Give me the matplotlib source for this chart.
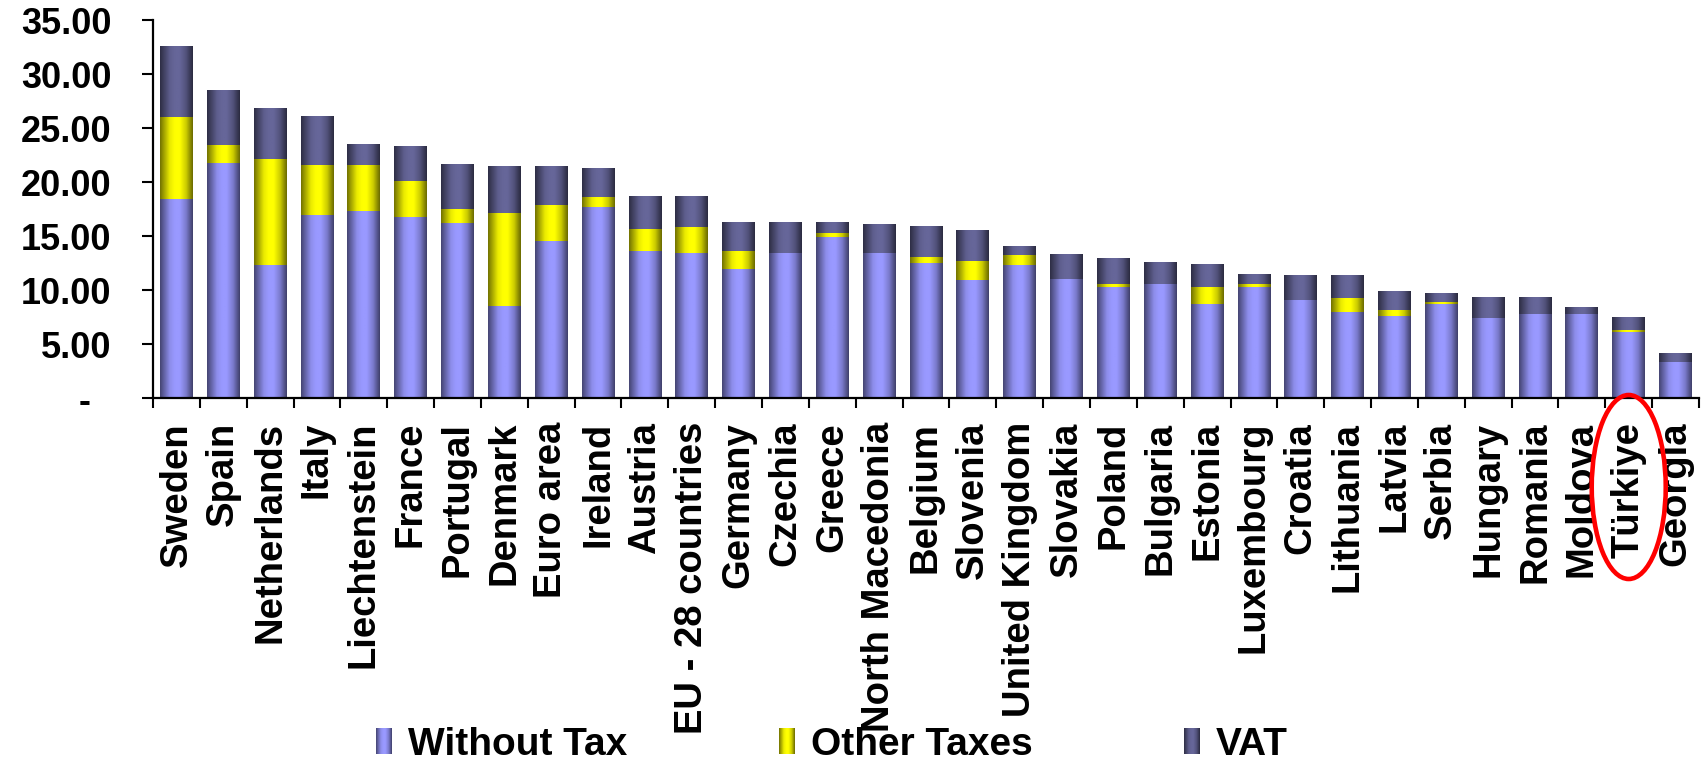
import numpy as np
import matplotlib
matplotlib.use('Agg')
import matplotlib.pyplot as plt
from matplotlib.patches import Ellipse
import matplotlib.transforms as mtransforms

plt.rcParams['font.family'] = ['Liberation Sans', 'DejaVu Sans']
plt.rcParams['font.weight'] = 'bold'

countries = ["Sweden", "Spain", "Netherlands", "Italy", "Liechtenstein", "France",
             "Portugal", "Denmark", "Euro area", "Ireland", "Austria",
             "EU - 28 countries", "Germany", "Czechia", "Greece", "North Macedonia",
             "Belgium", "Slovenia", "United Kingdom", "Slovakia", "Poland",
             "Bulgaria", "Estonia", "Luxembourg", "Croatia", "Lithuania", "Latvia",
             "Serbia", "Hungary", "Romania", "Moldova", "Türkiye", "Georgia"]

without_tax = [18.44, 21.77, 12.34, 16.96, 17.33, 16.78, 16.22, 8.57, 14.56, 17.70,
               13.63, 13.45, 11.97, 13.45, 14.93, 13.45, 12.52, 10.95, 12.34, 11.04,
               10.30, 10.58, 8.76, 10.33, 9.13, 8.02, 7.65, 8.76, 7.46, 7.83, 7.83,
               6.17, 3.39]
other_taxes = [7.59, 1.67, 9.80, 4.63, 4.26, 3.33, 1.30, 8.58, 3.33, 0.93,
               2.04, 2.40, 1.66, 0.00, 0.37, 0.00, 0.56, 1.76, 0.92, 0.00,
               0.28, 0.00, 1.57, 0.28, 0.00, 1.29, 0.55, 0.18, 0.00, 0.00, 0.00,
               0.18, 0.00]
vat = [6.57, 5.09, 4.72, 4.53, 1.94, 3.24, 4.16, 4.35, 3.61, 2.68,
       3.05, 2.87, 2.68, 2.86, 1.01, 2.68, 2.86, 2.86, 0.83, 2.31,
       2.40, 2.03, 2.13, 0.92, 2.31, 2.13, 1.76, 0.84, 1.95, 1.58, 0.65,
       1.21, 0.84]

series_names = ["Without Tax", "Other Taxes", "VAT"]
series_values = [without_tax, other_taxes, vat]
series_colors = [(153, 153, 255), (255, 255, 0), (102, 102, 153)]
y_ticks = [0, 5, 10, 15, 20, 25, 30, 35]
y_tick_labels = ["-  ", "5.00", "10.00", "15.00", "20.00", "25.00", "30.00", "35.00"]
highlight = "Türkiye"

W, H = 1708, 763
fig = plt.figure(figsize=(W / 100, H / 100), dpi=100)
ax = fig.add_axes([153 / W, 1 - 398.3 / H, (1699 - 153) / W, (398.3 - 20) / H])

def gradient(rgb, n=64):
    t = np.linspace(0, 1, n)
    f = np.interp(t, [0, 0.08, 0.3, 0.45, 0.6, 0.8, 0.93, 1.0],
                     [0.45, 0.58, 0.92, 1.0, 1.0, 0.8, 0.55, 0.42])
    c = np.array(rgb, dtype=float) / 255.0
    return np.clip(f[None, :, None] * c[None, None, :], 0, 1)

x = np.arange(len(countries))
bottom = np.zeros(len(countries))
bw = 0.70
for name, vals, col in zip(series_names, series_values, series_colors):
    vals = np.array(vals)
    bars = ax.bar(x, vals, bw, bottom=bottom, color=np.array(col) / 255.0,
                  edgecolor='none', label=name, zorder=1)
    g = gradient(col)
    for rect, v in zip(bars.patches, vals):
        if v <= 0:
            continue
        x0, y0 = rect.get_x(), rect.get_y()
        im = ax.imshow(g, extent=(x0, x0 + rect.get_width(), y0, y0 + rect.get_height()),
                       aspect='auto', interpolation='bilinear', zorder=2)
        im.set_clip_path(rect)
    bottom = bottom + vals

ax.set_xlim(-0.5, len(countries) - 0.5)
ax.set_ylim(0, 35)

for s in ['top', 'right']:
    ax.spines[s].set_visible(False)
for s in ['left', 'bottom']:
    ax.spines[s].set_linewidth(1.6)
    ax.spines[s].set_zorder(5)

ax.set_yticks(y_ticks)
ax.set_yticklabels(y_tick_labels, fontsize=26, fontweight='bold')
ax.tick_params(axis='y', direction='out', length=8, width=1.5, pad=22)

ax.set_xticks(x)
ax.set_xticklabels(countries, rotation=90, fontsize=27.5, fontweight='bold',
                   ha='center', va='top')
ax.set_xticks(np.arange(-0.5, len(countries), 1), minor=True)
ax.tick_params(axis='x', which='major', length=0, pad=17)
ax.tick_params(axis='x', which='minor', direction='out', length=7.5, width=1.5)

# highlight ellipse around Türkiye label
trans = mtransforms.blended_transform_factory(ax.transData, fig.transFigure)
ti = countries.index(highlight)
ell = Ellipse((ti, 1 - 487 / H), 1.58, 184 / H, transform=trans, fill=False,
              edgecolor='#FF0000', linewidth=3.3, clip_on=False, zorder=10)
fig.add_artist(ell)

# legend (manual, equally spaced entries as in the reference)
handle_x = [376, 779, 1184]
for hx, name, col in zip(handle_x, series_names, series_colors):
    hax = fig.add_axes([hx / W, 1 - 754 / H, 16 / W, 26 / H])
    hax.imshow(gradient(col), aspect='auto', interpolation='bilinear')
    hax.axis('off')
    fig.text((hx + 32) / W, 1 - 755 / H, name, fontsize=28, fontweight='bold',
             ha='left', va='baseline')

fig.savefig('out.png', dpi=100)
